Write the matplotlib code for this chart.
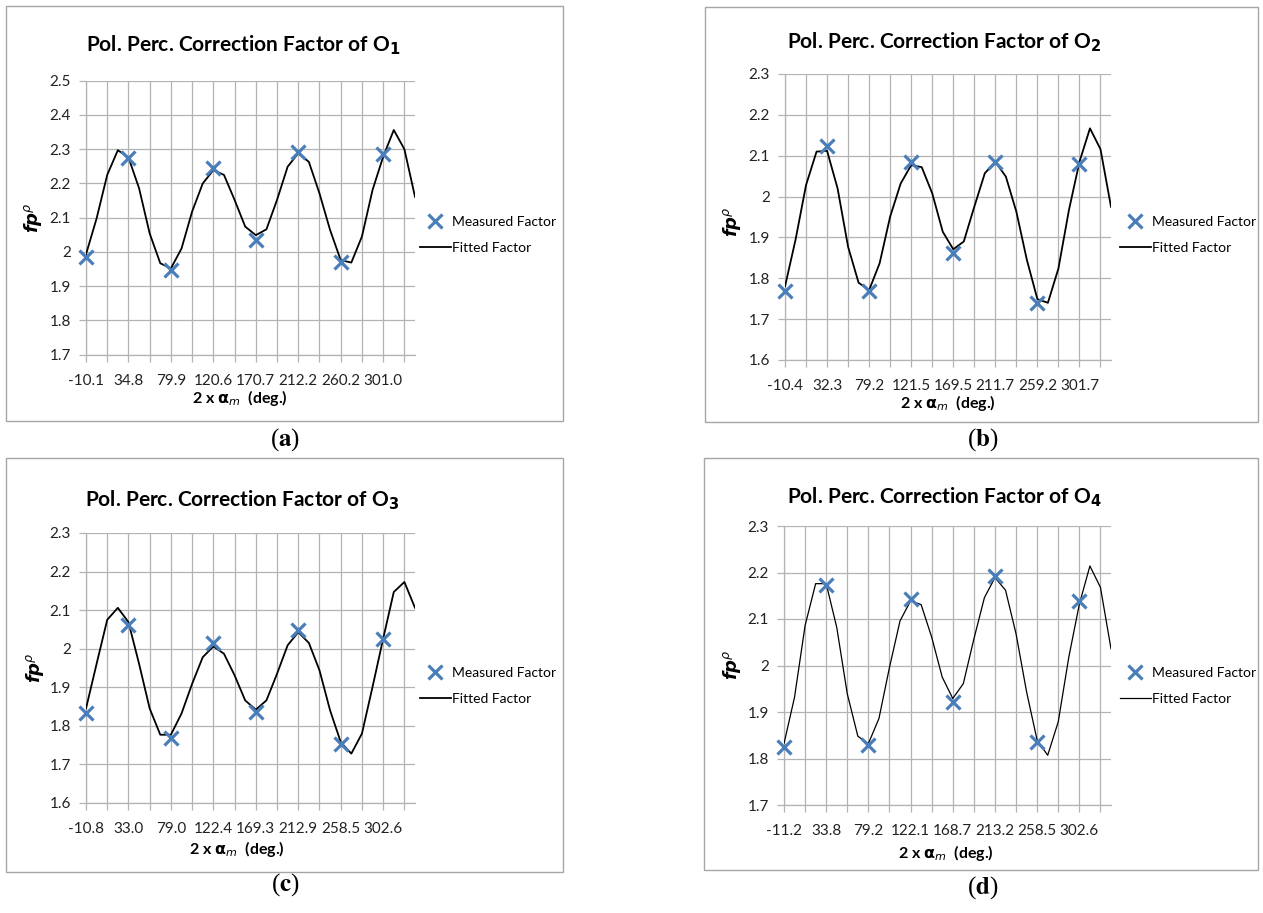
import matplotlib
matplotlib.use('Agg')
import matplotlib.pyplot as plt
from matplotlib.patches import Rectangle
import numpy as np

W, H = 1263, 913
plt.rcParams['font.family'] = ['Lato', 'DejaVu Sans']

# ---------------- data ----------------
labels_a = ['-10.1', '34.8', '79.9', '120.6', '170.7', '212.2', '260.2', '301.0']
meas_a = [1.985, 2.273, 1.948, 2.245, 2.035, 2.293, 1.972, 2.285]
fit_a = [1.993, 2.098, 2.225, 2.297, 2.276, 2.186, 2.054, 1.967,
         1.952, 2.010, 2.118, 2.200, 2.239, 2.225, 2.152, 2.074,
         2.049, 2.066, 2.152, 2.249, 2.288, 2.263, 2.171, 2.064,
         1.976, 1.969, 2.045, 2.181, 2.278, 2.356, 2.300, 2.161]

labels_b = ['-10.4', '32.3', '79.2', '121.5', '169.5', '211.7', '259.2', '301.7']
meas_b = [1.768, 2.124, 1.770, 2.085, 1.863, 2.085, 1.740, 2.079]
fit_b = [1.780, 1.894, 2.028, 2.110, 2.112, 2.020, 1.877, 1.789,
         1.771, 1.837, 1.951, 2.032, 2.077, 2.072, 2.008, 1.914,
         1.871, 1.890, 1.975, 2.057, 2.085, 2.049, 1.963, 1.845,
         1.749, 1.740, 1.824, 1.967, 2.085, 2.167, 2.116, 1.975]

labels_c = ['-10.8', '33.0', '79.0', '122.4', '169.3', '212.9', '258.5', '302.6']
meas_c = [1.834, 2.061, 1.769, 2.015, 1.836, 2.048, 1.754, 2.026]
fit_c = [1.845, 1.961, 2.075, 2.106, 2.069, 1.961, 1.845, 1.777,
         1.777, 1.832, 1.909, 1.978, 2.006, 1.987, 1.931, 1.866,
         1.842, 1.866, 1.935, 2.009, 2.043, 2.015, 1.944, 1.840,
         1.758, 1.728, 1.780, 1.901, 2.026, 2.147, 2.173, 2.106]

labels_d = ['-11.2', '33.8', '79.2', '122.1', '168.7', '213.2', '258.5', '302.6']
meas_d = [1.825, 2.174, 1.829, 2.143, 1.921, 2.193, 1.836, 2.138]
fit_d = [1.832, 1.932, 2.086, 2.176, 2.176, 2.082, 1.939, 1.848,
         1.832, 1.886, 1.996, 2.096, 2.139, 2.131, 2.061, 1.975,
         1.929, 1.961, 2.057, 2.146, 2.189, 2.162, 2.068, 1.943,
         1.839, 1.807, 1.879, 2.018, 2.132, 2.214, 2.168, 2.036]

titles = ['Pol. Perc. Correction Factor of O$_\\mathbf{1}$',
          'Pol. Perc. Correction Factor of O$_\\mathbf{2}$',
          'Pol. Perc. Correction Factor of O$_\\mathbf{3}$',
          'Pol. Perc. Correction Factor of O$_\\mathbf{4}$']
captions = ['a', 'b', 'c', 'd']

GRID = '#b3b3b3'
BLUE = '#4a7ebb'

fig = plt.figure(figsize=(W / 100, H / 100), dpi=100)


def fx(x):
    return x / W


def fy(y):
    return 1 - y / H


def panel(fit, meas, labels, ylo, yhi, title, cap, geo):
    (frame, plot, title_xy, xl_xy, yl_xy, leg_xy, cap_xy, lw) = geo
    fl, ft, fr, fb = frame
    fig.patches.append(Rectangle((fx(fl), fy(fb)), fx(fr - fl), (fb - ft) / H,
                                 transform=fig.transFigure, fill=False,
                                 edgecolor='#a6a6a6', lw=1.0))
    l, t, r, b = plot
    ax = fig.add_axes([fx(l), fy(b), fx(r - l), (b - t) / H])
    xi = np.arange(len(fit))
    xm = np.arange(len(meas)) * 4
    ln, = ax.plot(xi, fit, color='black', lw=lw, zorder=3, label='Fitted Factor')
    mk, = ax.plot(xm, meas, ls='none', marker='x', ms=10, mew=2.3,
                  color=BLUE, zorder=4, label='Measured Factor', clip_on=False)
    ax.set_xlim(0, len(fit) - 1)
    ax.set_ylim(ylo, yhi)
    yt = np.round(np.arange(ylo, yhi + 1e-9, 0.1), 1)
    ax.set_yticks(yt)
    ax.set_yticklabels([f'{v:g}' for v in yt], fontsize=11, color='#222222')
    ax.set_xticks(xm)
    ax.set_xticklabels(labels, fontsize=11, color='#222222')
    ax.set_xticks(np.arange(2, len(fit), 4), minor=True)
    ax.grid(True, which='both', color=GRID, lw=0.9)
    ax.set_axisbelow(True)
    for s in ['top', 'right']:
        ax.spines[s].set_visible(False)
    for s in ['left', 'bottom']:
        ax.spines[s].set_color(GRID)
        ax.spines[s].set_linewidth(0.9)
    ax.tick_params(axis='both', which='both', color=GRID, width=0.9,
                   length=5, direction='out')
    ax.tick_params(axis='y', pad=6)
    ax.tick_params(axis='x', pad=9)
    fig.text(fx(title_xy[0]), fy(title_xy[1]), title, ha='center', va='center',
             fontsize=15, fontweight='bold', math_fontfamily='dejavusans')
    fig.text(fx(xl_xy[0]), fy(xl_xy[1]), r'2 x $\mathbf{\alpha}_{m}$  (deg.)',
             ha='center', va='center', fontsize=11.5, fontweight='bold',
             math_fontfamily='dejavusans')
    fig.text(fx(yl_xy[0]), fy(yl_xy[1]), r'$\mathbfit{fp}^{\rho}$', rotation=90,
             ha='center', va='center', fontsize=13, math_fontfamily='dejavusans')
    fig.legend(handles=[mk, ln], loc='center left',
               bbox_to_anchor=(fx(leg_xy[0]), fy(leg_xy[1])),
               frameon=False, fontsize=10, handlelength=2.2,
               handletextpad=0.1, labelspacing=1.05, borderpad=0,
               borderaxespad=0)
    fig.text(fx(cap_xy[0]), fy(cap_xy[1]), '(' + r'$\mathbf{' + cap + '}$' + ')',
             ha='center', va='center', fontsize=18, family='Liberation Serif',
             math_fontfamily='stix')
    return ax


geo_a = ((6, 6, 563, 421), (86, 80.7, 415, 354.7), (243, 45), (240, 398),
         (33, 218), (420, 235), (285, 440), 1.3)
geo_b = ((705, 7, 1258, 422), (785, 74, 1111, 360), (944, 42), (948, 403),
         (732, 222), (1120, 235), (983, 440), 1.3)
geo_c = ((6, 458, 563, 872), (86, 533, 415, 803), (242, 500), (237, 849),
         (35, 668), (420, 686), (285, 885), 1.3)
geo_d = ((704, 458, 1258, 870), (784, 526, 1111, 805), (944, 497), (946, 853),
         (732, 665), (1120, 686), (983, 888), 0.9)

panel(fit_a, meas_a, labels_a, 1.7, 2.5, titles[0], captions[0], geo_a)
panel(fit_b, meas_b, labels_b, 1.6, 2.3, titles[1], captions[1], geo_b)
panel(fit_c, meas_c, labels_c, 1.6, 2.3, titles[2], captions[2], geo_c)
panel(fit_d, meas_d, labels_d, 1.7, 2.3, titles[3], captions[3], geo_d)

fig.savefig('out.png', dpi=100, facecolor='white')
